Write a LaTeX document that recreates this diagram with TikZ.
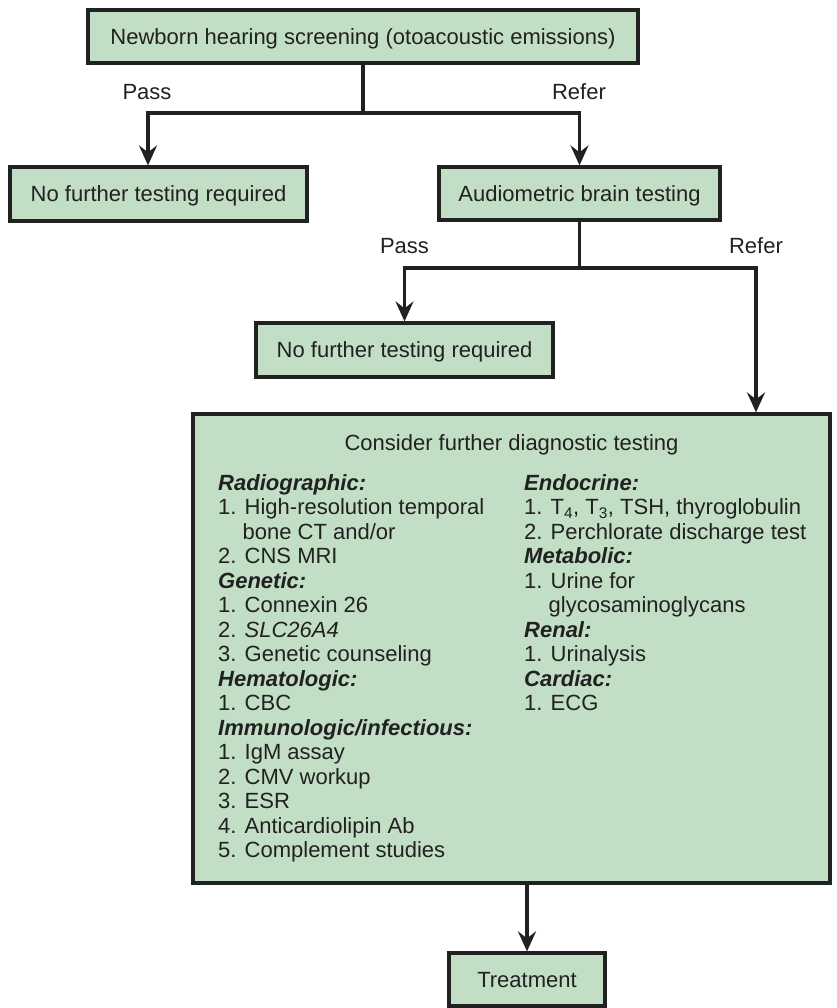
\documentclass[tikz,border=0pt]{standalone}
\usepackage{fontspec}
\setmainfont{Liberation Sans}
\usetikzlibrary{arrows.meta}
\definecolor{boxgreen}{RGB}{194,222,197}
\definecolor{inkgray}{RGB}{33,33,33}
\newcommand{\grouphead}[1]{\textbf{\textit{#1}}}
\tikzset{
  flowbox/.style={draw=inkgray, fill=boxgreen, line width=3.2pt, inner sep=0pt,
    text=inkgray, font=\fontsize{22}{24.5}\selectfont, text height=15.8pt, text depth=0pt},
  branch/.style={draw=inkgray, line width=3.2pt},
  flowarrow/.style={branch, -{Stealth[length=20pt, width=18pt, inset=7pt]}},
  branchlabel/.style={text=inkgray, font=\fontsize{22}{24.5}\selectfont, inner sep=0pt},
  coltext/.style={branchlabel, align=left, anchor=north west}
}
\begin{document}
\begin{tikzpicture}[x=1pt, y=-1pt]
\useasboundingbox (0,0) rectangle (836,1008);
% boxes
\node[flowbox, minimum width=550, minimum height=53] (screen) at (363,36.5)
  {Newborn hearing screening (otoacoustic emissions)};
\node[flowbox, minimum width=297, minimum height=54] (nofurther1) at (158.5,194)
  {No further testing required};
\node[flowbox, minimum width=281, minimum height=53] (audio) at (579.5,193.5)
  {Audiometric brain testing};
\node[flowbox, minimum width=297, minimum height=54] (nofurther2) at (404.5,350)
  {No further testing required};
\node[flowbox, minimum width=637, minimum height=469] (diag) at (511.5,648.5) {};
\node[flowbox, minimum width=156, minimum height=53] (treat) at (527,979.5)
  {Treatment};
% text of the diagnostic box
\node[branchlabel, anchor=base] (consider) at (511.5,450) {Consider further diagnostic testing};
\node[coltext] (leftcol) at (218,474) {\grouphead{Radiographic:}\\
  1. High-resolution temporal\\\phantom{1.~}bone CT and/or\\
  2. CNS MRI\\
  \grouphead{Genetic:}\\
  1. Connexin 26\\
  2. \textit{SLC26A4}\\
  3. Genetic counseling\\
  \grouphead{Hematologic:}\\
  1. CBC\\
  \grouphead{Immunologic/infectious:}\\
  1. IgM assay\\
  2. CMV workup\\
  3. ESR\\
  4. Anticardiolipin Ab\\
  5. Complement studies};
\node[coltext] (rightcol) at (524,474) {\grouphead{Endocrine:}\\
  1. T\textsubscript{4}, T\textsubscript{3}, TSH, thyroglobulin\\
  2. Perchlorate discharge test\\
  \grouphead{Metabolic:}\\
  1. Urine for\\\phantom{1.~}glycosaminoglycans\\
  \grouphead{Renal:}\\
  1. Urinalysis\\
  \grouphead{Cardiac:}\\
  1. ECG};
% branches
\coordinate (pass1) at (148,113);
\coordinate (refer1) at (579.5,113);
\coordinate (pass2) at (404.5,268);
\coordinate (refer2) at (756,268);
\draw[flowarrow] (screen.south) |- (pass1) -- (pass1 |- nofurther1.north);
\draw[flowarrow] (screen.south) |- (refer1) -- (audio.north);
\draw[flowarrow] (audio.south) |- (pass2) -- (nofurther2.north);
\draw[flowarrow] (audio.south) |- (refer2) -- (refer2 |- diag.north);
\draw[flowarrow] (diag.south -| treat.north) -- (treat.north);
% labels
\node[branchlabel, anchor=base] (pass1lbl) at (147,100) {Pass};
\node[branchlabel, anchor=base] (refer1lbl) at (579,100) {Refer};
\node[branchlabel, anchor=base] (pass2lbl) at (404.5,253) {Pass};
\node[branchlabel, anchor=base] (refer2lbl) at (756,253) {Refer};
\end{tikzpicture}
\end{document}
